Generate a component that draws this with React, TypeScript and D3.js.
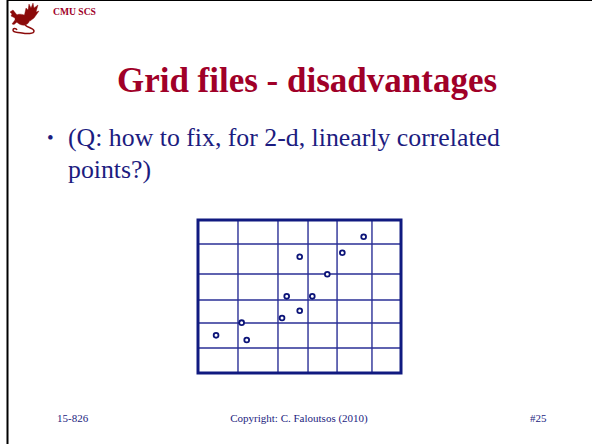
import React, { Component } from 'react';
import * as d3 from 'd3';

// grid partition lines, in data units (0..10 on both axes)
const xSplits = [1.97, 3.94, 5.42, 6.85, 8.57];
const ySplits = [1.63, 3.27, 4.77, 6.47, 8.43];

// the points, roughly on a line
const pointX = [8.16, 7.11, 5.01, 6.37, 4.37, 5.63, 5.01, 4.14, 2.15, 0.89, 2.40];
const pointY = [8.91, 7.86, 7.60, 6.45, 5.01, 5.01, 4.07, 3.59, 3.29, 2.46, 2.16];

const titleText = 'Grid files - disadvantages';
const bulletLines = ['(Q: how to fix, for 2-d, linearly correlated', 'points?)'];
const footerLeft = '15-826';
const footerMid = 'Copyright: C. Faloutsos (2010)';
const footerRight = '#25';

const red = '#a00028';
const navy = '#1c1c80';

class App extends Component {
  width: number;
  height: number;
  x: d3.ScaleLinear<number, number>;
  y: d3.ScaleLinear<number, number>;

  constructor(props: any) {
    super(props);
    this.width = 592;
    this.height = 444;
    this.x = d3.scaleLinear().domain([0, 10]).range([198, 401]);
    this.y = d3.scaleLinear().domain([0, 10]).range([373, 220]);
  }

  render() {
    const x = this.x;
    const y = this.y;
    const [x0, x1] = x.range();
    const [y0, y1] = y.range();

    const vLines = xSplits.map((d, i) => (
      <line key={'v' + i} x1={x(d)} x2={x(d)} y1={y1} y2={y0} stroke="#2a2f96" strokeWidth={1.4} />
    ));
    const hLines = ySplits.map((d, i) => (
      <line key={'h' + i} x1={x0} x2={x1} y1={y(d)} y2={y(d)} stroke="#2a2f96" strokeWidth={1.4} />
    ));
    const dots = pointX.map((d, i) => (
      <circle key={'p' + i} cx={x(d)} cy={y(pointY[i])} r={2.4} fill="#fff" stroke="#0c1478" strokeWidth={1.8} />
    ));

    return (
      <div style={{ position: 'fixed', left: 0, top: 0 }}>
        <svg width={this.width} height={this.height} style={{ display: 'block', background: '#fff' }}>
          {/* slide frame */}
          <line x1={7.5} x2={7.5} y1={0} y2={this.height} stroke="#000" strokeWidth={2} />
          <line x1={7} x2={this.width} y1={0.5} y2={0.5} stroke="#000" strokeWidth={1.2} />

          {/* logo - rough griffin */}
          <g fill="#8b0a0a" stroke="#8b0a0a">
            <path d="M24,17 L26,8 L28,10 L29,4 L31,8 L33,3 L34,8 L38,5 L36,12 L39,11 L34,18 L30,21 Z" strokeWidth={0.4} />
            <path d="M15,16 C18,13 24,14 28,17 C31,20 29,24 25,25 C21,26 17,23 15,20 Z" strokeWidth={0.4} />
            <path d="M17,15 L13,10 L10,12 L12,14 L11,16 L15,18 Z" strokeWidth={0.4} />
            <path d="M15,20 L12,24 L14,24.5 L17,22 Z" strokeWidth={0.4} />
            <path d="M25,25 C28,28 34,28 34,31 C34,34 27,34 22,33 C17,32 13,33 13,30 C13,28 16,28 17,30" fill="none" strokeWidth={1.5} />
          </g>
          <text x={53} y={15} fontFamily="Liberation Serif" fontWeight="bold" fontSize={9.6} fill={red}>CMU SCS</text>

          {/* title */}
          <text x={307} y={92} textAnchor="middle" fontFamily="Liberation Serif" fontWeight="bold" fontSize={35} fill={red}>
            {titleText}
          </text>

          {/* bullet */}
          <text x={47} y={144} fontFamily="Liberation Serif" fontSize={19} fill={navy}>•</text>
          {bulletLines.map((t, i) => (
            <text key={'b' + i} x={68} y={146 + i * 32} fontFamily="Liberation Serif" fontSize={25.8} fill={navy}>{t}</text>
          ))}

          {/* grid file */}
          {vLines}
          {hLines}
          <rect x={x0} y={y1} width={x1 - x0} height={y0 - y1} fill="none" stroke="#101a80" strokeWidth={3} />
          {dots}

          {/* footer */}
          <text x={57} y={422} fontFamily="Liberation Serif" fontSize={11} fill={navy}>{footerLeft}</text>
          <text x={299} y={422} textAnchor="middle" fontFamily="Liberation Serif" fontSize={11} fill={navy}>{footerMid}</text>
          <text x={530} y={422} fontFamily="Liberation Serif" fontSize={11} fill={navy}>{footerRight}</text>
        </svg>
      </div>
    );
  }
}

export default App;
